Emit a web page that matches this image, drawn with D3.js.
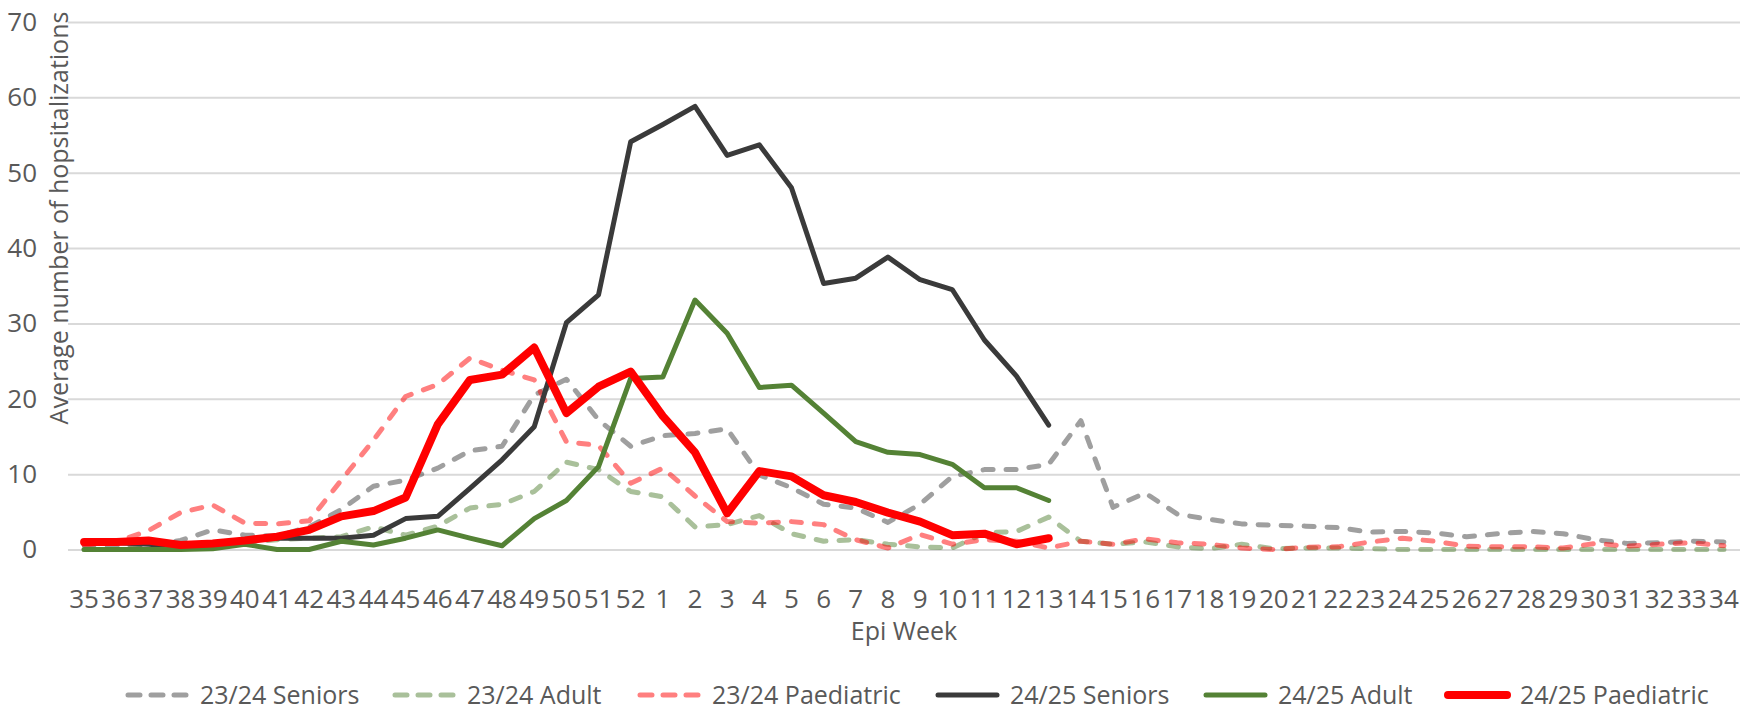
<!doctype html>
<html>
  <head>
    <meta http-equiv="Content-Type" content="text/html; charset=utf-8" />
    <title>Hospitalizations by Epi Week</title>
    <style>
      body { margin: 0; background: #fff; }
      svg { display: block; font-family: "Open Sans", "Noto Sans", sans-serif; }
    </style>
  </head>
  <body>
    <svg id="chart" width="1746" height="711"></svg>
    <script src="https://d3js.org/d3.v7.min.js"></script>
    <script>
      var weeks = ['35', '36', '37', '38', '39', '40', '41', '42', '43', '44', '45', '46', '47', '48', '49', '50', '51', '52',
        '1', '2', '3', '4', '5', '6', '7', '8', '9', '10', '11', '12', '13', '14', '15', '16', '17', '18', '19', '20',
        '21', '22', '23', '24', '25', '26', '27', '28', '29', '30', '31', '32', '33', '34']

      // 23/24 season, full year
      var seniors2324 = [0.6, 0.5, 0.5, 1.2, 2.6, 1.9, 1.8, 3.0, 5.3, 8.4, 9.2, 10.8, 13.1, 13.7, 20.5, 22.6, 17.2, 13.7,
        15.1, 15.4, 16.0, 9.9, 8.2, 6.0, 5.5, 3.6, 6.0, 9.7, 10.6, 10.6, 11.3, 17.1, 5.6, 7.5, 4.7, 4.0, 3.4, 3.2,
        3.1, 2.9, 2.3, 2.4, 2.2, 1.7, 2.1, 2.4, 2.1, 1.3, 0.8, 0.9, 1.1, 1.0]
      var adult2324 = [0, 0, 0.2, 0.1, 0.3, 0.9, 1.3, 1.5, 1.7, 3.0, 1.9, 3.1, 5.5, 6.0, 7.7, 11.6, 10.6, 7.7,
        7.0, 3.0, 3.3, 4.5, 2.1, 1.1, 1.3, 0.7, 0.35, 0.2, 2.2, 2.4, 4.3, 1.1, 0.7, 1.0, 0.35, 0.1, 0.7, 0.1,
        0.2, 0.2, 0.1, 0, 0, 0, 0, 0, 0, 0, 0, 0, 0, 0]
      var paed2324 = [0.6, 1.0, 2.5, 4.9, 5.9, 3.5, 3.4, 3.8, 9.2, 14.5, 20.3, 21.9, 25.4, 23.8, 22.5, 14.3, 13.8, 8.8,
        10.8, 7.1, 3.7, 3.5, 3.7, 3.3, 1.3, 0.2, 2.0, 0.7, 1.3, 1.1, 0.2, 1.1, 0.7, 1.4, 0.9, 0.7, 0.2, 0.0,
        0.3, 0.35, 1.0, 1.5, 1.1, 0.45, 0.35, 0.35, 0.2, 0.8, 0.45, 0.7, 0.9, 0.5]

      // 24/25 season, up to week 13
      var seniors2425 = [0.9, 0.9, 0.7, 0.4, 0.7, 1.2, 1.5, 1.5, 1.5, 1.9, 4.1, 4.4, 8.1, 11.9, 16.3, 30.1, 33.8, 54.1,
        56.4, 58.8, 52.3, 53.7, 48.0, 35.3, 36.0, 38.8, 35.8, 34.5, 27.8, 23.0, 16.5]
      var adult2425 = [0, 0, 0, 0, 0.1, 0.7, 0, 0, 1.1, 0.6, 1.5, 2.6, 1.5, 0.5, 4.1, 6.5, 11.0, 22.7,
        22.9, 33.1, 28.7, 21.5, 21.8, 18.1, 14.3, 12.9, 12.6, 11.3, 8.2, 8.2, 6.5]
      var paed2425 = [1.0, 1.0, 1.2, 0.6, 0.8, 1.2, 1.7, 2.6, 4.4, 5.1, 6.9, 16.6, 22.5, 23.2, 26.8, 18.1, 21.6, 23.6,
        17.7, 12.9, 4.8, 10.4, 9.7, 7.2, 6.3, 4.9, 3.7, 1.9, 2.1, 0.7, 1.5]

      var yTicks = [0, 10, 20, 30, 40, 50, 60, 70]

      var series = [
        { name: '23/24 Seniors', values: seniors2324, color: '#404040', opacity: 0.5, width: 5, dash: '10,13' },
        { name: '23/24 Adult', values: adult2324, color: '#548235', opacity: 0.5, width: 5, dash: '10,13' },
        { name: '23/24 Paediatric', values: paed2324, color: '#ff0000', opacity: 0.5, width: 5, dash: '10,13' },
        { name: '24/25 Seniors', values: seniors2425, color: '#3a3a3a', opacity: 1, width: 5, dash: null },
        { name: '24/25 Adult', values: adult2425, color: '#548235', opacity: 1, width: 5, dash: null },
        { name: '24/25 Paediatric', values: paed2425, color: '#ff0000', opacity: 1, width: 8, dash: null }
      ]

      var svg = d3.select('#chart'),
        margin = { top: 22, right: 6, bottom: 161.5, left: 68 },
        width = +svg.attr('width') - margin.left - margin.right,
        height = +svg.attr('height') - margin.top - margin.bottom,
        g = svg.append('g').attr('transform', 'translate(' + margin.left + ',' + margin.top + ')')

      var x = d3.scaleBand().domain(weeks).range([0, width])
      var y = d3.scaleLinear().domain([0, 70]).range([height, 0])

      // gridlines
      g.append('g')
        .call(d3.axisLeft(y).tickValues(yTicks).tickSize(-width).tickFormat(''))
        .call(function (a) { a.select('.domain').remove() })
        .selectAll('line')
        .attr('stroke', '#d9d9d9')
        .attr('stroke-width', 2)

      // y tick labels
      g.append('g')
        .call(d3.axisLeft(y).tickValues(yTicks).tickSize(0).tickPadding(31))
        .call(function (a) { a.select('.domain').remove() })
        .selectAll('text')
        .attr('fill', '#595959')
        .style('font-size', '26px')
        .style('font-family', '"Open Sans", sans-serif')

      // x tick labels
      g.append('g')
        .attr('transform', 'translate(0,' + height + ')')
        .call(d3.axisBottom(x).tickSize(0).tickPadding(40))
        .call(function (a) { a.select('.domain').remove() })
        .selectAll('text')
        .attr('fill', '#595959')
        .style('font-size', '26px')
        .style('font-family', '"Open Sans", sans-serif')

      var line = d3.line()
        .x(function (d, i) { return x(weeks[i]) + x.bandwidth() / 2 })
        .y(function (d) { return y(d) })

      series.forEach(function (s) {
        g.append('path')
          .datum(s.values)
          .attr('fill', 'none')
          .attr('stroke', s.color)
          .attr('stroke-opacity', s.opacity)
          .attr('stroke-width', s.width)
          .attr('stroke-linejoin', 'round')
          .attr('stroke-linecap', 'round')
          .attr('stroke-dasharray', s.dash)
          .attr('d', line)
      })

      // axis titles
      svg.append('text')
        .attr('transform', 'translate(68,218) rotate(-90)')
        .attr('text-anchor', 'middle')
        .attr('fill', '#595959')
        .style('font-size', '25px')
        .text('Average number of hopsitalizations')

      svg.append('text')
        .attr('x', margin.left + width / 2)
        .attr('y', 640)
        .attr('text-anchor', 'middle')
        .attr('fill', '#595959')
        .style('font-size', '25px')
        .text('Epi Week')

      // legend
      var legendX = [125, 392, 637, 935, 1203, 1445]
      var legend = svg.append('g').attr('transform', 'translate(0,695)')
      series.forEach(function (s, i) {
        var item = legend.append('g').attr('transform', 'translate(' + legendX[i] + ',0)')
        item.append('line')
          .attr('x1', 3).attr('x2', 62)
          .attr('stroke', s.color)
          .attr('stroke-opacity', s.opacity)
          .attr('stroke-width', s.width)
          .attr('stroke-linecap', 'round')
          .attr('stroke-dasharray', s.dash ? '12,11' : null)
        item.append('text')
          .attr('x', 75)
          .attr('y', 9)
          .attr('fill', '#595959')
          .style('font-size', '25px')
          .text(s.name)
      })
    </script>
  </body>
</html>
